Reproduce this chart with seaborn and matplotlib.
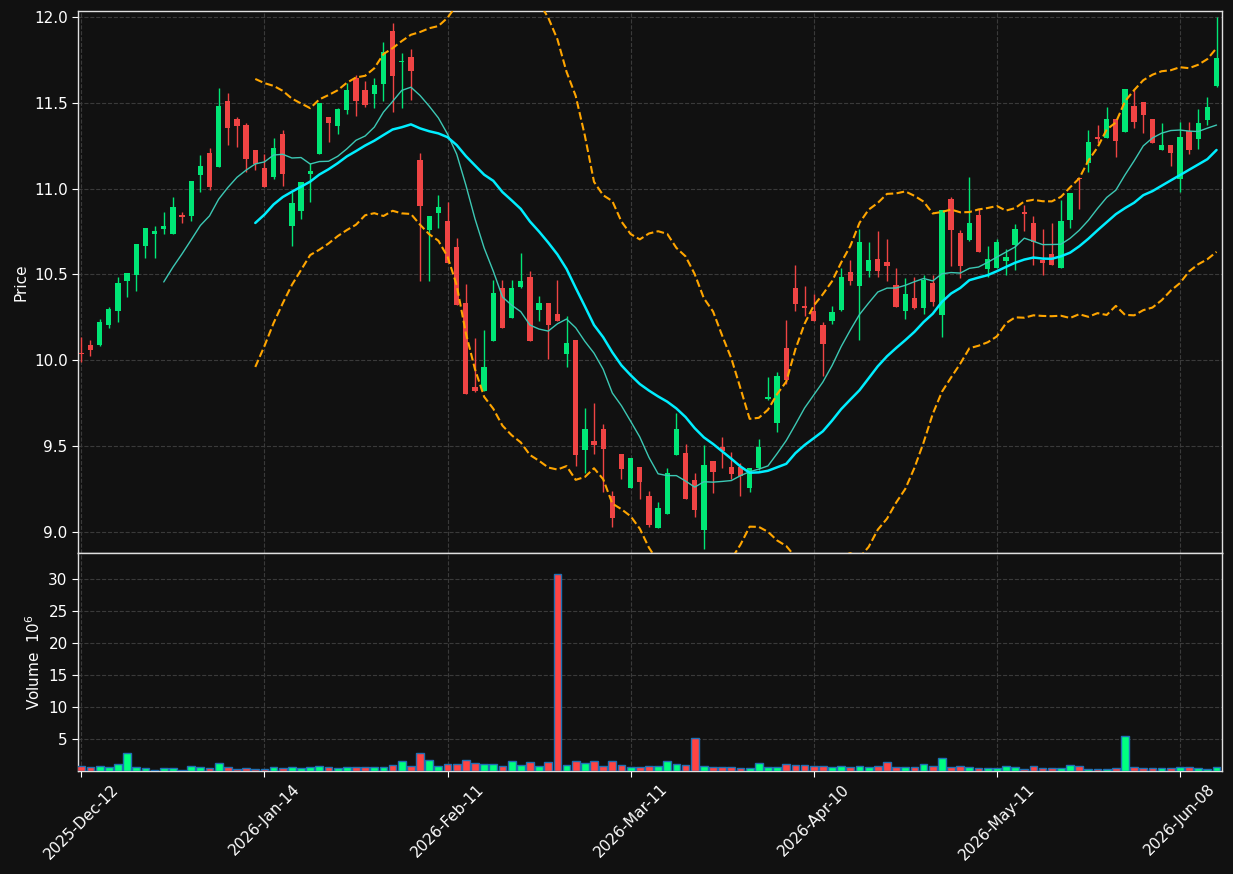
import numpy as np
import pandas as pd
import matplotlib
matplotlib.use("Agg")
import matplotlib.pyplot as plt
import seaborn as sns

# -----------------------------------
# Data (price in $, volume in millions)
# -----------------------------------

opens = [10.040, 10.089, 10.085, 10.207, 10.283, 10.463, 10.493, 10.662, 10.732, 10.766,
         10.737, 10.840, 10.842, 11.081, 11.207, 11.128, 11.510, 11.406, 11.371, 11.225,
         11.120, 11.070, 11.318, 10.784, 10.871, 11.087, 11.204, 11.417, 11.367, 11.460,
         11.646, 11.575, 11.551, 11.611, 11.918, 11.735, 11.765, 11.165, 10.759, 10.859,
         10.809, 10.659, 10.331, 9.841, 9.821, 10.112, 10.420, 10.247, 10.426, 10.484,
         10.293, 10.331, 10.267, 10.036, 10.118, 9.473, 9.529, 9.599, 9.209, 9.453,
         9.251, 9.378, 9.209, 9.018, 9.100, 9.449, 9.459, 9.302, 9.007, 9.413,
         9.494, 9.378, 9.378, 9.251, 9.372, 9.774, 9.630, 10.071, 10.421, 10.310,
         10.287, 10.205, 10.230, 10.294, 10.514, 10.429, 10.522, 10.588, 10.570, 10.436,
         10.283, 10.360, 10.306, 10.448, 10.265, 10.939, 10.741, 10.702, 10.844, 10.533,
         10.539, 10.580, 10.673, 10.860, 10.798, 10.586, 10.619, 10.539, 10.819, 11.060,
         11.151, 11.296, 11.297, 11.406, 11.332, 11.481, 11.505, 11.406, 11.227, 11.255,
         11.058, 11.338, 11.291, 11.402, 11.598]

highs = [10.137, 10.118, 10.238, 10.310, 10.485, 10.510, 10.677, 10.770, 10.782, 10.864,
         10.951, 10.864, 11.044, 11.194, 11.235, 11.584, 11.555, 11.419, 11.380, 11.225,
         11.202, 11.295, 11.341, 10.982, 11.038, 11.147, 11.499, 11.417, 11.468, 11.613,
         11.662, 11.629, 11.646, 11.856, 11.967, 11.792, 11.813, 11.205, 10.839, 10.960,
         10.922, 10.709, 10.444, 10.127, 10.173, 10.464, 10.464, 10.464, 10.625, 10.520,
         10.373, 10.331, 10.464, 10.255, 10.118, 9.719, 9.749, 9.628, 9.234, 9.453,
         9.430, 9.378, 9.238, 9.172, 9.370, 9.690, 9.512, 9.341, 9.502, 9.413,
         9.550, 9.463, 9.399, 9.370, 9.539, 9.900, 9.931, 10.234, 10.553, 10.430,
         10.384, 10.223, 10.314, 10.537, 10.582, 10.763, 10.687, 10.751, 10.704, 10.535,
         10.477, 10.483, 10.493, 10.493, 10.873, 10.949, 10.761, 11.066, 10.883, 10.664,
         10.704, 10.646, 10.794, 10.902, 10.840, 10.763, 10.798, 10.934, 10.974, 11.062,
         11.340, 11.369, 11.474, 11.406, 11.581, 11.575, 11.505, 11.406, 11.380, 11.255,
         11.390, 11.390, 11.464, 11.532, 11.998]

lows = [9.991, 10.021, 10.080, 10.184, 10.219, 10.370, 10.405, 10.597, 10.597, 10.733,
        10.737, 10.798, 10.809, 10.978, 10.990, 11.128, 11.252, 11.240, 11.099, 11.110,
        11.011, 11.054, 11.015, 10.664, 10.825, 10.920, 11.204, 11.270, 11.316, 11.433,
        11.421, 11.477, 11.468, 11.512, 11.446, 11.468, 11.514, 10.458, 10.458, 10.767,
        10.566, 10.321, 9.803, 9.811, 9.821, 10.112, 10.189, 10.247, 10.418, 10.112,
        10.227, 10.008, 10.227, 9.962, 9.381, 9.341, 9.451, 9.230, 9.026, 9.304,
        9.251, 9.189, 9.028, 9.018, 9.100, 9.449, 9.187, 9.084, 8.898, 9.224,
        9.370, 9.306, 9.205, 9.228, 9.358, 9.768, 9.580, 9.861, 10.285, 10.254,
        10.230, 9.904, 10.211, 10.285, 10.436, 10.118, 10.485, 10.485, 10.460, 10.312,
        10.238, 10.296, 10.267, 10.314, 10.133, 10.551, 10.477, 10.693, 10.627, 10.483,
        10.539, 10.495, 10.524, 10.753, 10.553, 10.495, 10.553, 10.539, 10.768, 10.879,
        11.099, 11.268, 11.297, 11.182, 11.332, 11.351, 11.322, 11.268, 11.227, 11.132,
        10.978, 11.200, 11.229, 11.369, 11.590]

closes = [10.034, 10.056, 10.223, 10.298, 10.450, 10.508, 10.677, 10.770, 10.753, 10.782,
          10.893, 10.836, 11.044, 11.132, 11.011, 11.481, 11.355, 11.367, 11.174, 11.141,
          11.011, 11.237, 11.087, 10.916, 11.038, 11.103, 11.499, 11.384, 11.462, 11.575,
          11.512, 11.487, 11.604, 11.794, 11.658, 11.745, 11.687, 10.900, 10.839, 10.892,
          10.566, 10.321, 9.803, 9.821, 9.958, 10.390, 10.189, 10.420, 10.460, 10.112,
          10.331, 10.205, 10.227, 10.098, 9.449, 9.599, 9.502, 9.479, 9.077, 9.366,
          9.430, 9.286, 9.040, 9.139, 9.343, 9.599, 9.187, 9.123, 9.389, 9.345,
          9.471, 9.337, 9.325, 9.370, 9.494, 9.785, 9.908, 9.883, 10.324, 10.305,
          10.230, 10.096, 10.279, 10.483, 10.458, 10.687, 10.582, 10.522, 10.551, 10.312,
          10.386, 10.306, 10.467, 10.341, 10.873, 10.761, 10.551, 10.798, 10.627, 10.588,
          10.689, 10.599, 10.765, 10.854, 10.691, 10.568, 10.557, 10.811, 10.974, 11.056,
          11.271, 11.290, 11.406, 11.279, 11.581, 11.390, 11.431, 11.268, 11.255, 11.210,
          11.301, 11.227, 11.382, 11.476, 11.761]

volumes = [0.78, 0.63, 0.78, 0.63, 1.09, 2.81, 0.63, 0.47, 0.16, 0.47,
           0.47, 0.16, 0.78, 0.63, 0.47, 1.25, 0.63, 0.31, 0.47, 0.31,
           0.31, 0.63, 0.47, 0.63, 0.47, 0.63, 0.78, 0.63, 0.47, 0.63,
           0.63, 0.63, 0.63, 0.63, 0.94, 1.56, 0.78, 2.81, 1.72, 0.78,
           1.09, 1.09, 1.72, 1.25, 1.09, 1.09, 0.78, 1.56, 0.94, 1.41,
           0.78, 1.41, 30.80, 0.94, 1.56, 1.25, 1.56, 0.78, 1.56, 0.94,
           0.63, 0.63, 0.78, 0.78, 1.56, 1.09, 0.94, 5.16, 0.78, 0.63,
           0.63, 0.63, 0.47, 0.47, 1.25, 0.63, 0.63, 1.09, 0.94, 0.94,
           0.78, 0.78, 0.63, 0.78, 0.63, 0.78, 0.63, 0.78, 1.41, 0.63,
           0.63, 0.63, 1.09, 0.78, 2.03, 0.63, 0.78, 0.63, 0.47, 0.47,
           0.47, 0.78, 0.63, 0.31, 0.78, 0.47, 0.47, 0.47, 0.94, 0.78,
           0.31, 0.31, 0.31, 0.47, 5.47, 0.63, 0.47, 0.47, 0.47, 0.47,
           0.63, 0.63, 0.47, 0.31, 0.63]

tick_pos = [0, 20, 40, 60, 80, 100, 120]
tick_labels = ["2025-Dec-12", "2026-Jan-14", "2026-Feb-11", "2026-Mar-11",
               "2026-Apr-10", "2026-May-11", "2026-Jun-08"]

# -----------------------------------
# Frame + indicators
# -----------------------------------

df = pd.DataFrame({"open": opens, "high": highs, "low": lows,
                   "close": closes, "volume": volumes})
df["idx"] = np.arange(len(df))
df["dir"] = np.where(df["close"] >= df["open"], "up", "down")

df["ma10"] = df["close"].rolling(10).mean()
df["ma20"] = df["close"].rolling(20).mean()
std20 = df["close"].rolling(20).std(ddof=0)
df["bb_up"] = df["ma20"] + 2 * std20
df["bb_lo"] = df["ma20"] - 2 * std20

UP = "#00e676"
DOWN = "#ef4444"
BG = "#111111"

sns.set_theme(style="darkgrid", rc={
    "figure.facecolor": BG,
    "axes.facecolor": BG,
    "axes.edgecolor": "#e0e0e0",
    "axes.labelcolor": "white",
    "xtick.color": "white",
    "ytick.color": "white",
    "grid.color": "#3a3a3a",
    "grid.linestyle": "--",
    "grid.linewidth": 0.8,
    "xtick.bottom": True,
    "ytick.left": True,
})
plt.rcParams["font.family"] = ["DejaVu Sans"]

fig = plt.figure(figsize=(12.33, 8.74), dpi=100)
ax = fig.add_axes([0.0633, 0.3673, 0.9278, 0.6201])
axv = fig.add_axes([0.0633, 0.1178, 0.9278, 0.2494], sharex=ax)

# -----------------------------------
# Candles
# -----------------------------------

colors = np.where(df["dir"] == "up", UP, DOWN)
body_lo = np.minimum(df["open"], df["close"])
body_h = np.maximum((df["close"] - df["open"]).abs(), 0.008)

ax.vlines(df["idx"], df["low"], df["high"], colors=colors, linewidth=1.0, zorder=2)
ax.bar(df["idx"], body_h, bottom=body_lo, width=0.58, color=colors,
       linewidth=0, zorder=3)

# Moving averages and bands
sns.lineplot(data=df, x="idx", y="ma10", ax=ax, color="#3cc8b4", linewidth=1.0, zorder=4)
sns.lineplot(data=df, x="idx", y="ma20", ax=ax, color="#00eeff", linewidth=1.8, zorder=4)
sns.lineplot(data=df, x="idx", y="bb_up", ax=ax, color="#ffa500", linewidth=1.5,
             linestyle="--", zorder=4)
sns.lineplot(data=df, x="idx", y="bb_lo", ax=ax, color="#ffa500", linewidth=1.5,
             linestyle="--", zorder=4)

ax.set_xlim(-0.36, 124.6)
ax.set_ylim(8.875, 12.035)
ax.set_yticks([9.0, 9.5, 10.0, 10.5, 11.0, 11.5, 12.0])
ax.set_yticklabels([f"{v:.1f}" for v in [9.0, 9.5, 10.0, 10.5, 11.0, 11.5, 12.0]])
ax.set_ylabel("Price", fontsize=11)
ax.set_xlabel("")
ax.tick_params(axis="x", labelbottom=False, length=0)
ax.tick_params(axis="y", labelsize=11, length=4, width=0.8)

# -----------------------------------
# Volume
# -----------------------------------

vol_colors = np.where(df["dir"] == "up", "#00ff80", "#ff4444")
axv.bar(df["idx"], df["volume"], width=0.85, color=vol_colors,
        edgecolor="#1f6fb4", linewidth=1.0, zorder=3)

axv.set_ylim(0.05, 34.0)
axv.set_yticks([5, 10, 15, 20, 25, 30])
axv.set_ylabel("Volume  $10^{6}$", fontsize=11)
axv.set_xticks(tick_pos)
axv.set_xticklabels(tick_labels, rotation=45, fontsize=11)
axv.tick_params(axis="both", labelsize=11, length=4, width=0.8)

for a in (ax, axv):
    for s in a.spines.values():
        s.set_color("#e0e0e0")
        s.set_linewidth(1.0)
    a.grid(True, linestyle="--", color="#3a3a3a", linewidth=0.8)
    a.set_axisbelow(True)

fig.savefig("out.png", dpi=100, facecolor=BG)
